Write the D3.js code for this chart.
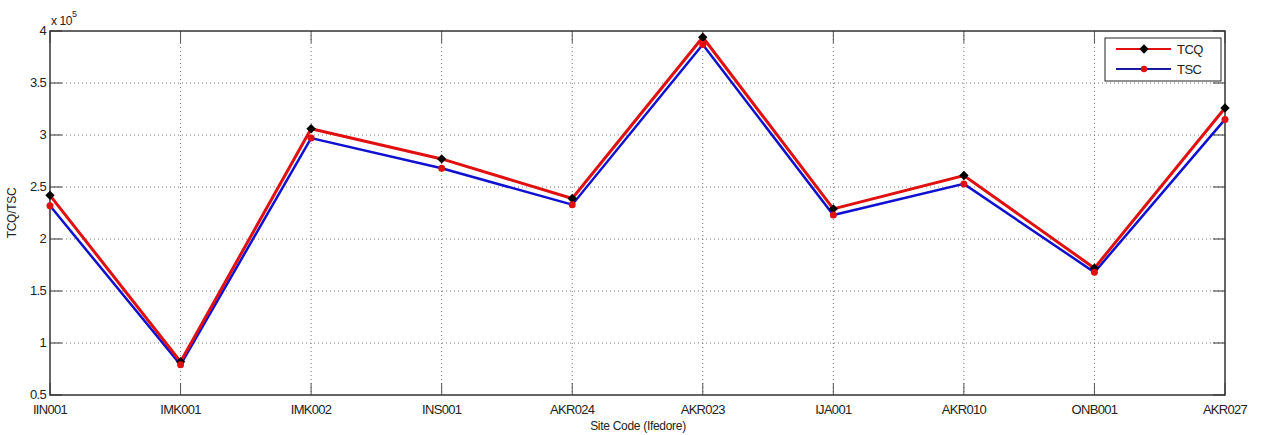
<!DOCTYPE html>
<html><head><meta charset="utf-8">
<script src="https://cdn.jsdelivr.net/npm/d3@7"></script>
<style>body{margin:0;background:#fff}svg{display:block}text{font-family:"Liberation Sans",Arial,sans-serif;fill:#222}</style>
</head><body><svg id="c" width="1261" height="435"></svg>
<script>
const categories = ["IIN001","IMK001","IMK002","INS001","AKR024","AKR023","IJA001","AKR010","ONB001","AKR027"];
const tcq = [2.42, 0.82, 3.06, 2.77, 2.39, 3.94, 2.29, 2.61, 1.72, 3.26];
const tsc = [2.32, 0.79, 2.97, 2.68, 2.33, 3.87, 2.23, 2.53, 1.68, 3.15];
const yTicks = [0.5, 1, 1.5, 2, 2.5, 3, 3.5, 4];
const yTickLabels = ["0.5","1","1.5","2","2.5","3","3.5","4"];

const svg = d3.select("#c");
const L = 50, R = 1225, T = 31, B = 395;
const x = d3.scalePoint().domain(categories).range([L, R]);
const y = d3.scaleLinear().domain([0.5, 4]).range([B, T]);

// grid
const g = svg.append("g");
g.selectAll(".gx").data(categories.slice(1, -1)).enter().append("line")
  .attr("x1", d => x(d)).attr("x2", d => x(d)).attr("y1", T).attr("y2", B)
  .attr("stroke", "#777").attr("stroke-width", 1).attr("stroke-dasharray", "1,3");
g.selectAll(".gy").data(yTicks.slice(1, -1)).enter().append("line")
  .attr("x1", L).attr("x2", R).attr("y1", d => y(d)).attr("y2", d => y(d))
  .attr("stroke", "#777").attr("stroke-width", 1).attr("stroke-dasharray", "1,3");

// inward ticks
const tk = 12;
categories.forEach(c => {
  g.append("line").attr("x1", x(c)).attr("x2", x(c)).attr("y1", B).attr("y2", B - tk).attr("stroke", "#555");
  g.append("line").attr("x1", x(c)).attr("x2", x(c)).attr("y1", T).attr("y2", T + tk).attr("stroke", "#555");
});
yTicks.forEach(v => {
  g.append("line").attr("x1", L).attr("x2", L + tk).attr("y1", y(v)).attr("y2", y(v)).attr("stroke", "#333");
  g.append("line").attr("x1", R).attr("x2", R - tk).attr("y1", y(v)).attr("y2", y(v)).attr("stroke", "#333");
});

// box
svg.append("rect").attr("x", L).attr("y", T).attr("width", R - L).attr("height", B - T)
  .attr("fill", "none").attr("stroke", "#333").attr("stroke-width", 1.5);

// tick labels
svg.selectAll(".xl").data(categories).enter().append("text")
  .attr("x", d => x(d)).attr("y", 414).attr("text-anchor", "middle")
  .attr("font-size", 13).style("letter-spacing", "-0.7px").text(d => d);
svg.selectAll(".yl").data(yTicks).enter().append("text")
  .attr("x", 46).attr("y", d => y(d) + 4).attr("text-anchor", "end")
  .attr("font-size", 13).style("letter-spacing", "-0.7px").text((d, i) => yTickLabels[i]);

// exponent
const ex = svg.append("text").attr("x", 51).attr("y", 25).attr("font-size", 12).style("letter-spacing", "-0.4px");
ex.append("tspan").text("x 10");
ex.append("tspan").attr("dy", -8).attr("font-size", 9).text("5");

// axis labels
svg.append("text").attr("transform", "translate(16,213) rotate(-90)").attr("text-anchor", "middle")
  .attr("font-size", 12).style("letter-spacing", "-0.3px").text("TCQ/TSC");
svg.append("text").attr("x", 638).attr("y", 430).attr("text-anchor", "middle")
  .attr("font-size", 12).style("letter-spacing", "-0.3px").text("Site Code (Ifedore)");

// lines
const line = d3.line().x((d, i) => x(categories[i])).y(d => y(d));
svg.append("path").datum(tsc).attr("d", line).attr("fill", "none").attr("stroke", "#1010d0").attr("stroke-width", 2.5);
svg.append("path").datum(tcq).attr("d", line).attr("fill", "none").attr("stroke", "#e01010").attr("stroke-width", 3);

// markers
const diamond = d3.symbol().type(d3.symbolSquare).size(44);
svg.selectAll(".dm").data(tcq).enter().append("path")
  .attr("d", diamond).attr("transform", (d, i) => `translate(${x(categories[i])},${y(d)}) rotate(45)`).attr("fill", "#000");
svg.selectAll(".dt").data(tsc).enter().append("circle")
  .attr("cx", (d, i) => x(categories[i])).attr("cy", d => y(d)).attr("r", 3.5).attr("fill", "#e01010");

// legend
const lg = svg.append("g");
lg.append("rect").attr("x", 1105).attr("y", 38).attr("width", 116).attr("height", 43)
  .attr("fill", "#fff").attr("stroke", "#222").attr("stroke-width", 1);
lg.append("line").attr("x1", 1116).attr("x2", 1171).attr("y1", 49).attr("y2", 49).attr("stroke", "#e01010").attr("stroke-width", 2);
lg.append("path").attr("d", diamond).attr("transform", "translate(1144,49) rotate(45)").attr("fill", "#000");
lg.append("text").attr("x", 1177).attr("y", 54).attr("font-size", 13).style("letter-spacing", "-0.5px").text("TCQ");
lg.append("line").attr("x1", 1116).attr("x2", 1171).attr("y1", 69).attr("y2", 69).attr("stroke", "#1a1aa0").attr("stroke-width", 2);
lg.append("circle").attr("cx", 1144).attr("cy", 69).attr("r", 3.2).attr("fill", "#e01010");
lg.append("text").attr("x", 1177).attr("y", 74).attr("font-size", 13).style("letter-spacing", "-0.5px").text("TSC");
</script></body></html>
